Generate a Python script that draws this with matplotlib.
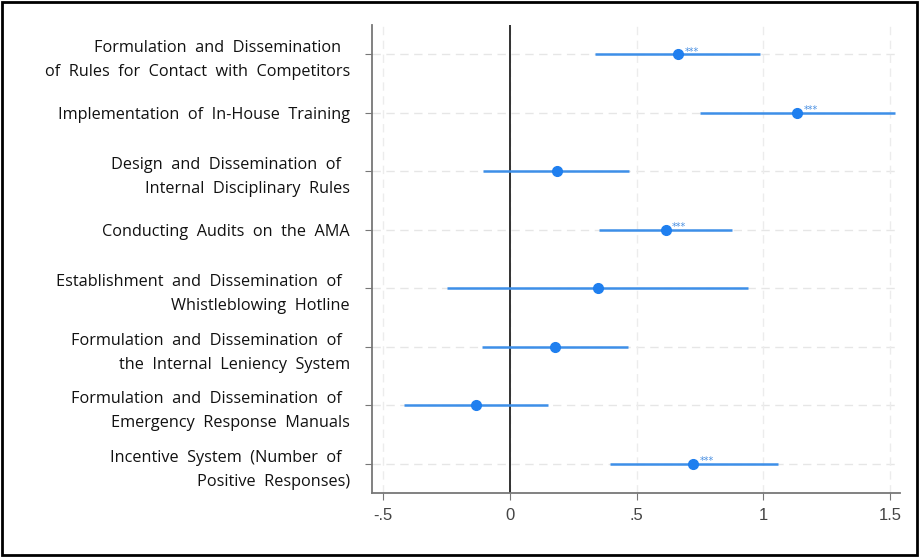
import numpy as np
import matplotlib
matplotlib.use('Agg')
import matplotlib.pyplot as plt
from matplotlib.patches import Rectangle

# Coefficients and 95% CIs, top to bottom
labels = [
    'Formulation  and  Dissemination  \nof  Rules  for  Contact  with  Competitors',
    'Implementation  of  In-House  Training',
    'Design  and  Dissemination  of  \nInternal  Disciplinary  Rules',
    'Conducting  Audits  on  the  AMA',
    'Establishment  and  Dissemination  of  \nWhistleblowing  Hotline',
    'Formulation  and  Dissemination  of  \nthe  Internal  Leniency  System',
    'Formulation  and  Dissemination  of  \nEmergency  Response  Manuals',
    'Incentive  System  (Number  of  \nPositive  Responses)',
]
coef = [0.664, 1.133, 0.185, 0.615, 0.347, 0.179, -0.136, 0.724]
ci_low = [0.337, 0.749, -0.105, 0.350, -0.249, -0.109, -0.417, 0.394]
ci_high = [0.988, 1.519, 0.471, 0.878, 0.940, 0.467, 0.151, 1.057]
stars = ['***', '***', '', '***', '', '', '', '***']

xticks = [-0.5, 0, 0.5, 1, 1.5]
xtick_labels = ['-.5', '0', '.5', '1', '1.5']

fig = plt.figure(figsize=(9.19, 5.57), dpi=100)
ax = fig.add_axes([0.405, 0.115, 0.574, 0.84])

ypos = np.arange(1, len(labels) + 1)

# grid
for y in ypos:
    ax.axhline(y, color='#e6e6e6', linestyle=(0, (6, 4)), linewidth=1, zorder=0)
for x in xticks:
    ax.axvline(x, color='#ececec', linestyle=(0, (6, 4)), linewidth=1, zorder=0)

ax.axvline(0, color='#222222', linewidth=1.3, zorder=1)

ax.hlines(ypos, ci_low, ci_high, color='#3d8fe8', linewidth=1.8, zorder=2)
ax.plot(coef, ypos, 'o', color='#1f7fef', markersize=7, zorder=3)
for c, y, s in zip(coef, ypos, stars):
    if s:
        ax.text(c + 0.025, y - 0.04, s, color='#4a90e2', fontsize=7,
                ha='left', va='center', zorder=4)

ax.set_xlim(-0.544, 1.538)
ax.set_ylim(8.5, 0.5)
ax.set_yticks(ypos)
ax.set_yticklabels(labels, fontfamily='Open Sans', fontsize=11.7,
                   linespacing=1.65, color='#111111')
ax.set_xticks(xticks)
ax.set_xticklabels(xtick_labels, fontfamily='Liberation Sans', fontsize=12,
                   color='#444444')

for side in ['top', 'right']:
    ax.spines[side].set_visible(False)
for side in ['left', 'bottom']:
    ax.spines[side].set_color('#777777')
    ax.spines[side].set_linewidth(1.3)
ax.tick_params(axis='y', length=5, color='#777777', pad=11)
ax.tick_params(axis='x', length=5, color='#777777', pad=6)

# outer frame
fig.patches.append(Rectangle((0.002, 0.003), 0.996, 0.994, transform=fig.transFigure,
                             fill=False, edgecolor='black', linewidth=2))

fig.savefig('out.png', dpi=100)
